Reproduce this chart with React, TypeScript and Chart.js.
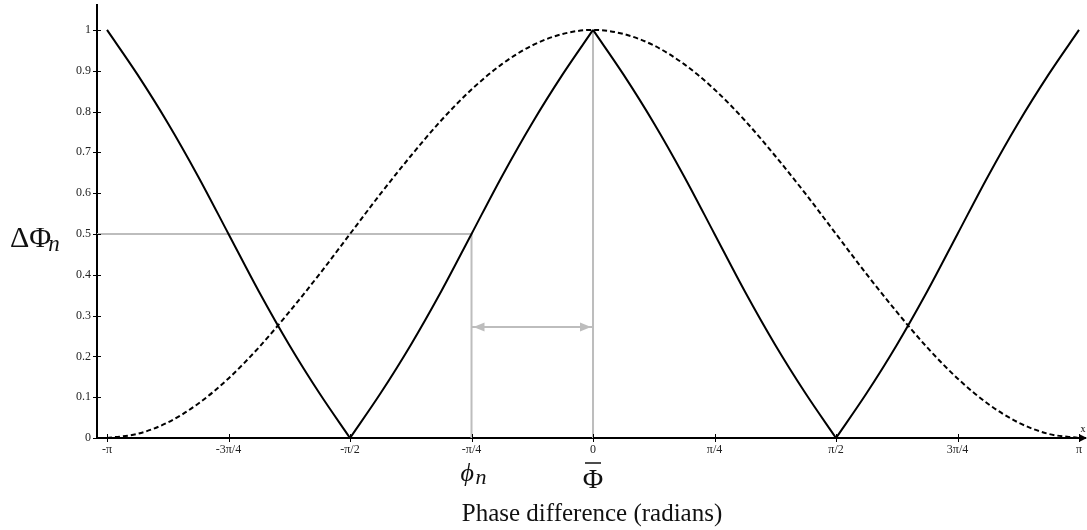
import React, { useEffect, useRef } from 'react';
import { Chart, registerables } from 'chart.js';

Chart.register(...registerables);

// phase values in units of π
const phase = [-1, -0.9375, -0.875, -0.8125, -0.75, -0.6875, -0.625, -0.5625, -0.5, -0.4375, -0.375, -0.3125, -0.25, -0.1875, -0.125, -0.0625, 0, 0.0625, 0.125, 0.1875, 0.25, 0.3125, 0.375, 0.4375, 0.5, 0.5625, 0.625, 0.6875, 0.75, 0.8125, 0.875, 0.9375, 1];
const deltaPhi = [1, 0.891, 0.772, 0.641, 0.5, 0.359, 0.228, 0.109, 0, 0.109, 0.228, 0.359, 0.5, 0.641, 0.772, 0.891, 1, 0.891, 0.772, 0.641, 0.5, 0.359, 0.228, 0.109, 0, 0.109, 0.228, 0.359, 0.5, 0.641, 0.772, 0.891, 1];
const meanCurve = [0, 0.01, 0.038, 0.084, 0.146, 0.222, 0.309, 0.402, 0.5, 0.598, 0.691, 0.778, 0.854, 0.916, 0.962, 0.99, 1, 0.99, 0.962, 0.916, 0.854, 0.778, 0.691, 0.598, 0.5, 0.402, 0.309, 0.222, 0.146, 0.084, 0.038, 0.01, 0];
// indices where the solid curve has a cusp (its pieces are drawn separately)
const cuspIndex = [0, 8, 16, 24, 32];

const xTickValues = [-1, -0.75, -0.5, -0.25, 0, 0.25, 0.5, 0.75, 1];
const xTickLabels = ['-π', '-3π/4', '-π/2', '-π/4', '0', 'π/4', 'π/2', '3π/4', 'π'];
const yTickValues = [0, 0.1, 0.2, 0.3, 0.4, 0.5, 0.6, 0.7, 0.8, 0.9, 1];

const xRange = [-1.0206, 1.0123];
const yRange = [0, 1.061];

const phiN = -0.25;
const phiBar = 0;
const level = 0.5;
const arrowLevel = 0.272;

const GRAY = '#bdbdbd';
const SERIF = '"Liberation Serif", "Times New Roman", serif';

const annotate = {
  id: 'annotate',
  afterDraw(chart: any) {
    const { ctx } = chart;
    const x = chart.scales.x;
    const y = chart.scales.y;
    ctx.save();
    ctx.strokeStyle = '#000';
    ctx.lineWidth = 1;
    const y0 = y.getPixelForValue(0);
    xTickValues.forEach((v) => {
      const px = Math.round(x.getPixelForValue(v)) + 0.5;
      ctx.beginPath();
      ctx.moveTo(px, y0 - 4);
      ctx.lineTo(px, y0 + 4);
      ctx.stroke();
    });
    const x0 = x.left;
    yTickValues.forEach((v) => {
      const py = Math.round(y.getPixelForValue(v)) + 0.5;
      ctx.beginPath();
      ctx.moveTo(x0 - 4, py);
      ctx.lineTo(x0 + 4, py);
      ctx.stroke();
    });
    ctx.fillStyle = '#000';
    ctx.beginPath();
    ctx.moveTo(x.right + 2, y0);
    ctx.lineTo(x.right - 6, y0 - 4);
    ctx.lineTo(x.right - 6, y0 + 4);
    ctx.closePath();
    ctx.fill();
    ctx.font = '10px ' + SERIF;
    ctx.textAlign = 'center';
    ctx.textBaseline = 'alphabetic';
    ctx.fillText('x', x.right - 2, y0 - 6);

    const ay = y.getPixelForValue(arrowLevel);
    const a1 = x.getPixelForValue(phiN) + 2;
    const a2 = x.getPixelForValue(phiBar) - 2;
    ctx.fillStyle = GRAY;
    ctx.beginPath();
    ctx.moveTo(a1, ay);
    ctx.lineTo(a1 + 11, ay - 4.5);
    ctx.lineTo(a1 + 11, ay + 4.5);
    ctx.closePath();
    ctx.fill();
    ctx.beginPath();
    ctx.moveTo(a2, ay);
    ctx.lineTo(a2 - 11, ay - 4.5);
    ctx.lineTo(a2 - 11, ay + 4.5);
    ctx.closePath();
    ctx.fill();

    ctx.fillStyle = '#111';
    ctx.textAlign = 'left';
    ctx.font = '30px ' + SERIF;
    ctx.fillText('ΔΦ', 10, 247);
    const wDP = ctx.measureText('ΔΦ').width;
    ctx.font = 'italic 23px ' + SERIF;
    ctx.fillText('n', 10 + wDP - 3, 251);

    const pN = x.getPixelForValue(phiN);
    ctx.font = 'italic 26px ' + SERIF;
    ctx.fillText('ϕ', pN - 11, 481);
    ctx.font = 'italic 22px ' + SERIF;
    ctx.fillText('n', pN + 4, 484);

    const pB = x.getPixelForValue(phiBar);
    ctx.textAlign = 'center';
    ctx.font = '28px ' + SERIF;
    ctx.fillText('Φ', pB, 488);
    ctx.strokeStyle = '#111';
    ctx.lineWidth = 1.5;
    ctx.beginPath();
    ctx.moveTo(pB - 8, 463);
    ctx.lineTo(pB + 8, 463);
    ctx.stroke();

    ctx.font = '25px ' + SERIF;
    ctx.fillText('Phase difference (radians)', (x.left + x.right) / 2 + 1, 521);
    ctx.restore();
  },
};

export default function App() {
  const ref = useRef<HTMLCanvasElement>(null);
  useEffect(() => {
    const solidPieces = cuspIndex.slice(0, -1).map((start, k) => ({
      data: phase
        .slice(start, cuspIndex[k + 1] + 1)
        .map((p, i) => ({ x: p, y: deltaPhi[start + i] })),
      borderColor: '#000',
      borderWidth: 2,
      pointRadius: 0,
      cubicInterpolationMode: 'monotone',
      order: 0,
    }));
    const chart = new Chart(ref.current as HTMLCanvasElement, {
      type: 'line',
      data: {
        datasets: [
          ...solidPieces,
          {
            data: phase.map((p, i) => ({ x: p, y: meanCurve[i] })),
            borderColor: '#000',
            borderWidth: 2,
            borderDash: [5, 3],
            pointRadius: 0,
            cubicInterpolationMode: 'monotone',
            order: 0,
          },
          {
            data: [
              { x: xRange[0], y: level },
              { x: phiN, y: level },
              { x: phiN, y: 0 },
            ],
            borderColor: GRAY,
            borderWidth: 2,
            pointRadius: 0,
            tension: 0,
            order: 2,
          },
          {
            data: [
              { x: phiBar, y: 1 },
              { x: phiBar, y: 0 },
            ],
            borderColor: GRAY,
            borderWidth: 2,
            pointRadius: 0,
            order: 2,
          },
          {
            data: [
              { x: phiN, y: arrowLevel },
              { x: phiBar, y: arrowLevel },
            ],
            borderColor: GRAY,
            borderWidth: 2,
            pointRadius: 0,
            order: 2,
          },
        ],
      } as any,
      options: {
        responsive: false,
        animation: false,
        devicePixelRatio: 1,
        layout: { padding: { top: 5, right: 2, left: 0, bottom: 0 } },
        plugins: { legend: { display: false }, tooltip: { enabled: false } },
        scales: {
          x: {
            type: 'linear',
            min: xRange[0],
            max: xRange[1],
            afterBuildTicks: (s: any) => {
              s.ticks = xTickValues.map((v) => ({ value: v }));
            },
            afterFit: (s: any) => {
              s.height = 92;
              s.paddingLeft = 0;
              s.paddingRight = 0;
            },
            ticks: {
              callback: (_v: any, i: number) => xTickLabels[i],
              font: { family: SERIF, size: 12 },
              color: '#222',
              padding: 5,
              maxRotation: 0,
              autoSkip: false,
            },
            grid: { display: true, drawOnChartArea: false, drawTicks: false },
            border: { display: true, color: '#000', width: 2 },
          },
          y: {
            type: 'linear',
            min: yRange[0],
            max: yRange[1],
            afterBuildTicks: (s: any) => {
              s.ticks = yTickValues.map((v) => ({ value: v }));
            },
            afterFit: (s: any) => {
              s.width = 97;
              s.paddingTop = 0;
              s.paddingBottom = 0;
            },
            ticks: {
              callback: (v: any) => String(v),
              font: { family: SERIF, size: 12 },
              color: '#222',
              padding: 6,
              autoSkip: false,
            },
            grid: { display: true, drawOnChartArea: false, drawTicks: false },
            border: { display: true, color: '#000', width: 2 },
          },
        },
      } as any,
      plugins: [annotate],
    });
    return () => chart.destroy();
  }, []);
  return (
    <div style={{ position: 'absolute', left: 0, top: 0, width: 1087, height: 530, background: '#fff' }}>
      <canvas ref={ref} width={1087} height={530} style={{ display: 'block' }} />
    </div>
  );
}
